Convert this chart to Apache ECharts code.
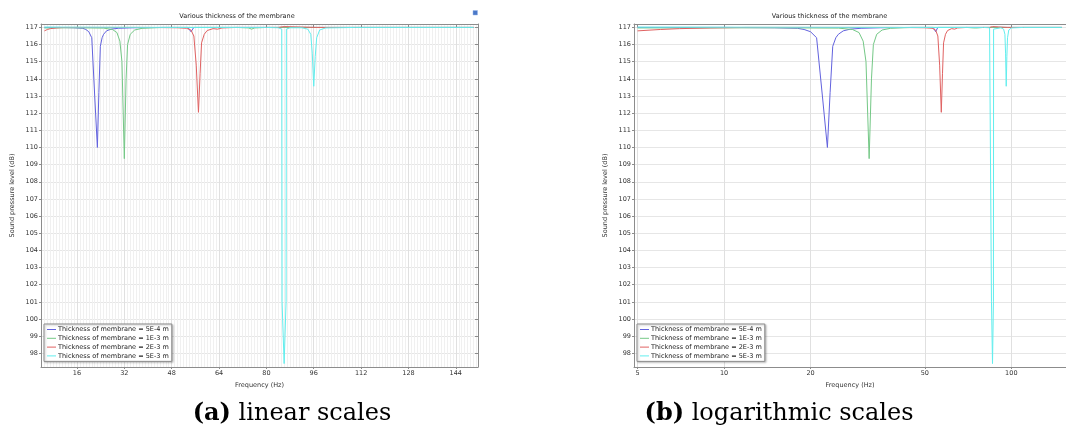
<!DOCTYPE html>
<html><head><meta charset="utf-8">
<script src="https://cdn.jsdelivr.net/npm/echarts@6/dist/echarts.min.js"></script>
<style>html,body{margin:0;padding:0;background:#fff}#c{width:1066px;height:432px}</style>
</head><body><div id="c"></div>
<script>
// ---- data (frequency Hz, sound pressure level dB) ----
const seriesNames = [
  'Thickness of membrane = 5E-4 m',
  'Thickness of membrane = 1E-3 m',
  'Thickness of membrane = 2E-3 m',
  'Thickness of membrane = 5E-3 m'
];
const thick5e4 = [[5,117.0],[10,117.0],[15,116.98],[18,116.95],[19,116.88],[20,116.75],[21,116.4],[22.0,113.0],[22.9,110.0],[23.4,113.2],[23.9,115.9],[24.5,116.4],[25,116.6],[26,116.8],[27.5,116.9],[30,116.95],[35,116.98],[45,117.0],[53.5,117.0],[54.5,116.75],[55.5,117.0],[60,117.0],[80,117.0],[100,117.0],[150,117.0]];
const thick1e3 = [[5,116.97],[15,116.98],[25,116.96],[28,116.88],[29.5,116.7],[30.5,116.2],[31.2,115.0],[32.0,109.35],[32.6,114.0],[33.1,116.0],[34,116.6],[35.5,116.85],[38,116.95],[45,117.0],[70,117.0],[74,116.97],[75,116.9],[76,116.97],[80,117.0],[150,117.0]];
const thick2e3 = [[5,116.8],[6,116.88],[7,116.93],[9,116.97],[12,117.0],[40,117.0],[50,116.98],[53,116.95],[54.5,116.85],[55.5,116.5],[56.3,114.8],[57.05,112.05],[57.6,114.3],[58.1,116.1],[59,116.6],[60,116.82],[62,116.93],[63.5,116.9],[65,116.97],[70,117.0],[84,117.0],[86,117.05],[90,117.03],[97,117.0],[150,117.0]];
const thick5e3 = [[5,117.02],[50,117.0],[80,117.0],[84,116.98],[85.2,116.9],[85.3,101.0],[86.0,97.4],[86.65,101.0],[86.75,116.9],[88,116.98],[92,116.98],[94,116.9],[95,116.6],[95.5,115.5],[96.0,113.57],[96.5,115.3],[97,116.4],[98,116.85],[100,116.97],[110,117.0],[150,117.0]];
const seriesData = [thick5e4, thick1e3, thick2e3, thick5e3];
const seriesColors = ['#6262de', '#74c886', '#e06262', '#62eeee'];

const linearTicks = [16, 32, 48, 64, 80, 96, 112, 128, 144];
const logTicks = [5, 10, 20, 50, 100];
const dbTicks = [98,99,100,101,102,103,104,105,106,107,108,109,110,111,112,113,114,115,116,117];
const linearMinorTicks = [];
for (let f = 4; f <= 151; f++) linearMinorTicks.push(f);

// ---- styling ----
const FONT = 'DejaVu Sans';
const axisColor = '#8c8c8c';
const txt = { fontFamily: FONT, fontSize: 6.5, color: '#333' };
const linRange = { min: 3.85, max: 151.5 };
const logRange = { min: 4.86, max: 155 };
const dbRange = { min: 97.2, max: 117.2 };

function mainX(grid, type, range, ticks) {
  return {
    gridIndex: grid, type: type, min: range.min, max: range.max, position: 'bottom',
    name: 'Frequency (Hz)', nameLocation: 'middle', nameGap: 11,
    nameTextStyle: { fontFamily: FONT, fontSize: 6.5, color: '#333' },
    axisLine: { onZero: false, lineStyle: { color: axisColor, width: 1 } },
    axisTick: { show: true, customValues: ticks, length: 2, lineStyle: { color: axisColor } },
    axisLabel: Object.assign({ customValues: ticks, margin: 3, formatter: v => String(v) }, txt),
    splitLine: { show: true, lineStyle: { color: '#e0e0e0', width: 1 } }
  };
}
function topX(grid, type, range, ticks) {
  return {
    gridIndex: grid, type: type, min: range.min, max: range.max, position: 'top',
    axisLine: { onZero: false, lineStyle: { color: axisColor, width: 1 } },
    axisTick: { show: true, inside: true, customValues: ticks, length: 3, lineStyle: { color: axisColor } },
    axisLabel: { show: false }, splitLine: { show: false }
  };
}
function leftY(grid) {
  return {
    gridIndex: grid, type: 'value', min: dbRange.min, max: dbRange.max, position: 'left',
    name: 'Sound pressure level (dB)', nameLocation: 'middle', nameGap: 25,
    nameTextStyle: { fontFamily: FONT, fontSize: 6.5, color: '#333' },
    axisLine: { show: true, onZero: false, lineStyle: { color: axisColor, width: 1 } },
    axisTick: { show: true, customValues: dbTicks, length: 2, lineStyle: { color: axisColor } },
    axisLabel: Object.assign({ customValues: dbTicks, margin: 3 }, txt),
    splitLine: { show: true, lineStyle: { color: '#e6e6e6', width: 1 } }
  };
}
function rightY(grid, visible) {
  return {
    gridIndex: grid, type: 'value', min: dbRange.min, max: dbRange.max, position: 'right', show: visible,
    axisLine: { show: true, onZero: false, lineStyle: { color: axisColor, width: 1 } },
    axisTick: { show: true, inside: true, customValues: dbTicks, length: 3, lineStyle: { color: axisColor } },
    axisLabel: { show: false }, splitLine: { show: false }
  };
}
function legendAt(left) {
  return {
    orient: 'vertical', left: left, top: 324, data: seriesNames,
    icon: 'rect', itemWidth: 9, itemHeight: 1, itemGap: 1.8, padding: [2, 3, 2, 3],
    textStyle: { fontFamily: FONT, fontSize: 6.5, color: '#222', padding: [0, 0, 0, -3] },
    borderColor: '#8c8c8c', borderWidth: 1, backgroundColor: '#fff',
    shadowBlur: 2, shadowColor: 'rgba(0,0,0,0.25)', shadowOffsetX: 1, shadowOffsetY: 1
  };
}

const series = [];
seriesNames.forEach((n, i) => {
  series.push({ name: n, type: 'line', xAxisIndex: 1, yAxisIndex: 0, data: seriesData[i],
    symbol: 'none', lineStyle: { width: 1, color: seriesColors[i] }, itemStyle: { color: seriesColors[i] } });
});
seriesNames.forEach((n, i) => {
  series.push({ name: n, type: 'line', xAxisIndex: 3, yAxisIndex: 2, data: seriesData[i],
    symbol: 'none', lineStyle: { width: 1, color: seriesColors[i] }, itemStyle: { color: seriesColors[i] } });
});

const option = {
  animation: false,
  backgroundColor: '#fff',
  grid: [
    { left: 41, top: 24, width: 437, height: 343, show: false },
    { left: 634, top: 24, width: 435, height: 343, show: false }
  ],
  xAxis: [
    { gridIndex: 0, type: 'value', min: linRange.min, max: linRange.max, position: 'bottom',
      axisLine: { show: false, onZero: false }, axisTick: { show: false, customValues: linearMinorTicks },
      axisLabel: { show: false }, splitLine: { show: true, lineStyle: { color: '#f0f0f0', width: 1 } } },
    mainX(0, 'value', linRange, linearTicks),
    topX(0, 'value', linRange, linearTicks),
    mainX(1, 'log', logRange, logTicks),
    topX(1, 'log', logRange, logTicks)
  ],
  yAxis: [leftY(0), rightY(0, true), leftY(1), rightY(1, false)],
  legend: [legendAt(44), legendAt(637)],
  series: series,
  graphic: [
    { type: 'text', x: 237, y: 16, style: { text: 'Various thickness of the membrane', fontFamily: FONT, fontSize: 6.5, fill: '#222', align: 'center', verticalAlign: 'middle' } },
    { type: 'text', x: 829.5, y: 16, style: { text: 'Various thickness of the membrane', fontFamily: FONT, fontSize: 6.5, fill: '#222', align: 'center', verticalAlign: 'middle' } },
    { type: 'rect', shape: { x: 473, y: 10.5, width: 4.5, height: 4.5 }, style: { fill: '#4a78c8', stroke: '#9ab6e6', lineWidth: 0.5 } },
    { type: 'text', x: 292, y: 414, style: { text: '{b|(a)} linear scales', fontFamily: 'DejaVu Serif', fontSize: 24, fill: '#000', align: 'center', verticalAlign: 'middle',
      rich: { b: { fontFamily: 'DejaVu Serif', fontSize: 24, fontWeight: 'bold', fill: '#000' } } } },
    { type: 'text', x: 779, y: 414, style: { text: '{b|(b)} logarithmic scales', fontFamily: 'DejaVu Serif', fontSize: 24, fill: '#000', align: 'center', verticalAlign: 'middle',
      rich: { b: { fontFamily: 'DejaVu Serif', fontSize: 24, fontWeight: 'bold', fill: '#000' } } } }
  ]
};
const chart = echarts.init(document.getElementById('c'), null, { renderer: 'canvas' });
chart.setOption(option);
</script></body></html>
